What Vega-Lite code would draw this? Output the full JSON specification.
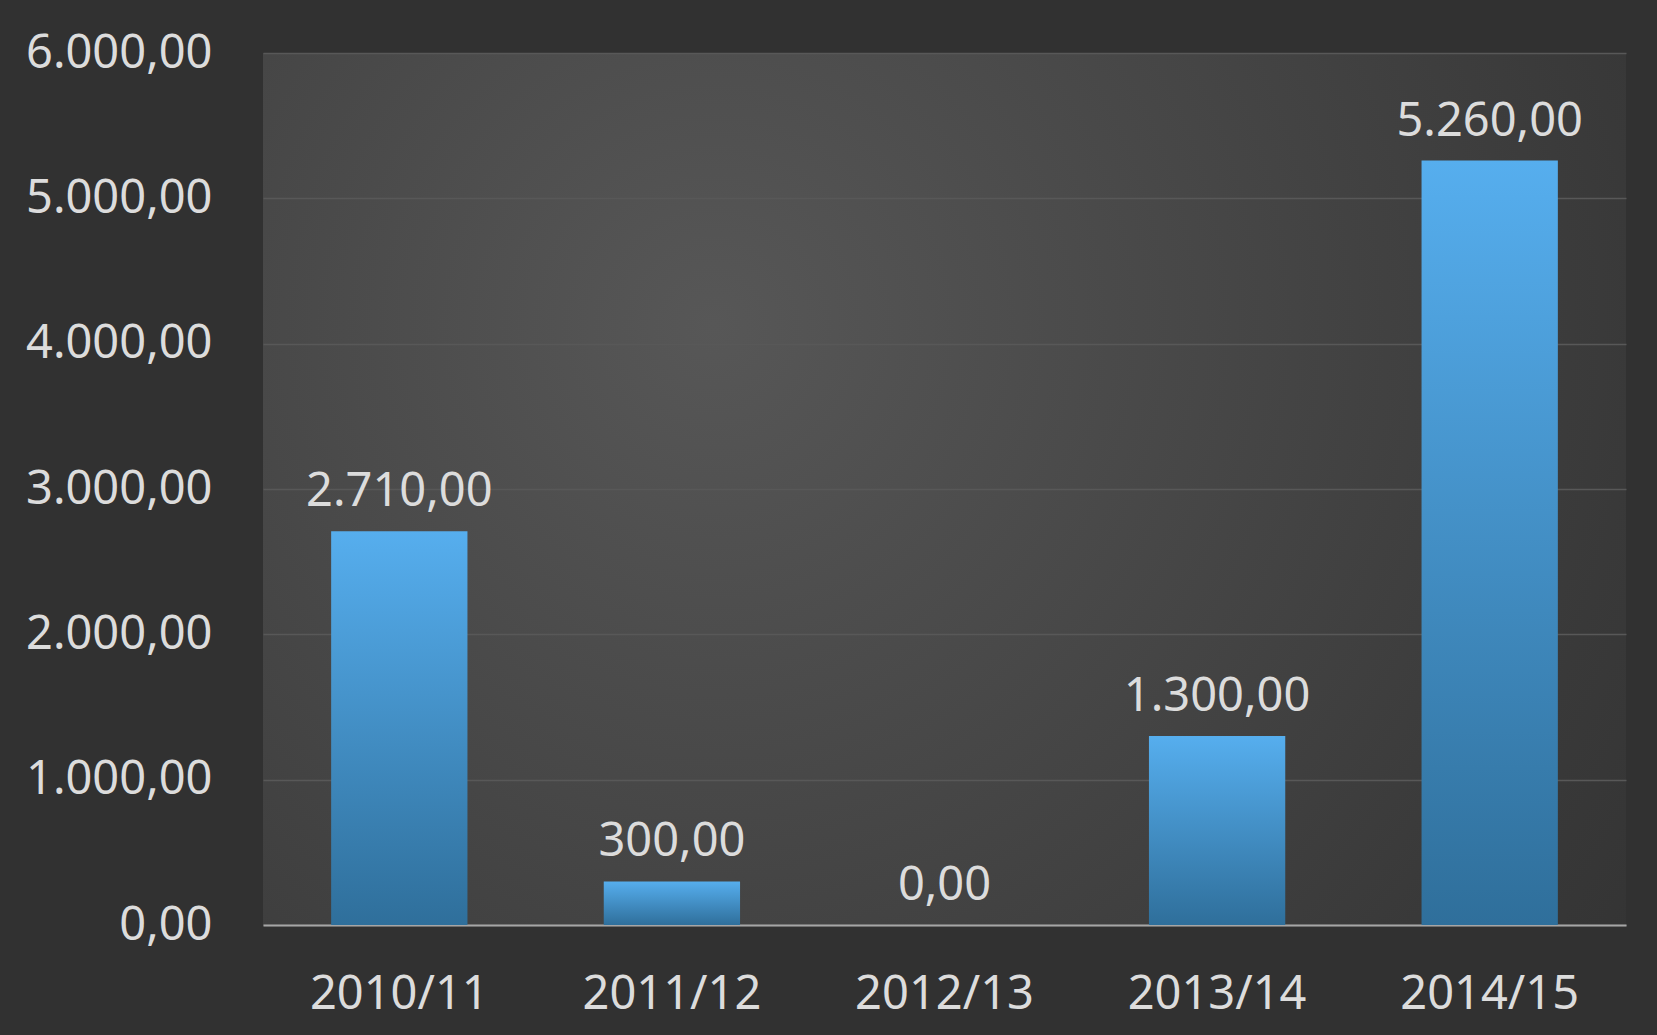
{
  "$schema": "https://vega.github.io/schema/vega-lite/v6.json",
  "width": 1363,
  "height": 872,
  "autosize": {"type": "none"},
  "padding": {"left": 263, "top": 53, "right": 31, "bottom": 110},
  "background": "#313131",
  "config": {
    "locale": {"number": {"decimal": ",", "thousands": ".", "grouping": [3], "currency": ["", " €"]}},
    "view": {
      "stroke": null,
      "fill": {
        "gradient": "radial",
        "x1": 0.33, "y1": 0.38, "r1": 0,
        "x2": 0.33, "y2": 0.38, "r2": 0.9,
        "stops": [
          {"offset": 0, "color": "#575757"},
          {"offset": 0.75, "color": "#393939"},
          {"offset": 1, "color": "#313131"}
        ]
      }
    },
    "font": "Noto Sans"
  },
  "data": {
    "values": [
      {"season": "2010/11", "value": 2710},
      {"season": "2011/12", "value": 300},
      {"season": "2012/13", "value": 0},
      {"season": "2013/14", "value": 1300},
      {"season": "2014/15", "value": 5260}
    ]
  },
  "encoding": {
    "x": {
      "field": "season",
      "type": "nominal",
      "sort": null,
      "scale": {"paddingInner": 0.5, "paddingOuter": 0.25},
      "axis": {
        "title": null,
        "labelAngle": 0,
        "labelFontSize": 47,
        "labelColor": "#dcdcdc",
        "labelBaseline": "alphabetic",
        "labelPadding": 83,
        "labelLimit": 0,
        "ticks": false,
        "domainColor": "#a6a6a6",
        "domainWidth": 2,
        "grid": false
      }
    },
    "y": {
      "field": "value",
      "type": "quantitative",
      "scale": {"domain": [0, 6000], "nice": false},
      "axis": {
        "title": null,
        "values": [0, 1000, 2000, 3000, 4000, 5000, 6000],
        "format": ",.2f",
        "labelFontSize": 47,
        "labelColor": "#dcdcdc",
        "labelPadding": 51,
        "labelLimit": 0,
        "labelBaseline": "middle",
        "ticks": false,
        "domain": false,
        "grid": true,
        "gridColor": "#585858",
        "gridWidth": 1.5
      }
    }
  },
  "layer": [
    {
      "mark": {
        "type": "bar",
        "fill": {
          "gradient": "linear",
          "x1": 0, "y1": 0, "x2": 0, "y2": 1,
          "stops": [
            {"offset": 0, "color": "#56aeee"},
            {"offset": 1, "color": "#2f6f9b"}
          ]
        }
      }
    },
    {
      "mark": {
        "type": "text",
        "baseline": "alphabetic",
        "dy": -25,
        "fontSize": 47,
        "color": "#dcdcdc"
      },
      "encoding": {
        "text": {"field": "value", "type": "quantitative", "format": ",.2f"}
      }
    }
  ]
}
